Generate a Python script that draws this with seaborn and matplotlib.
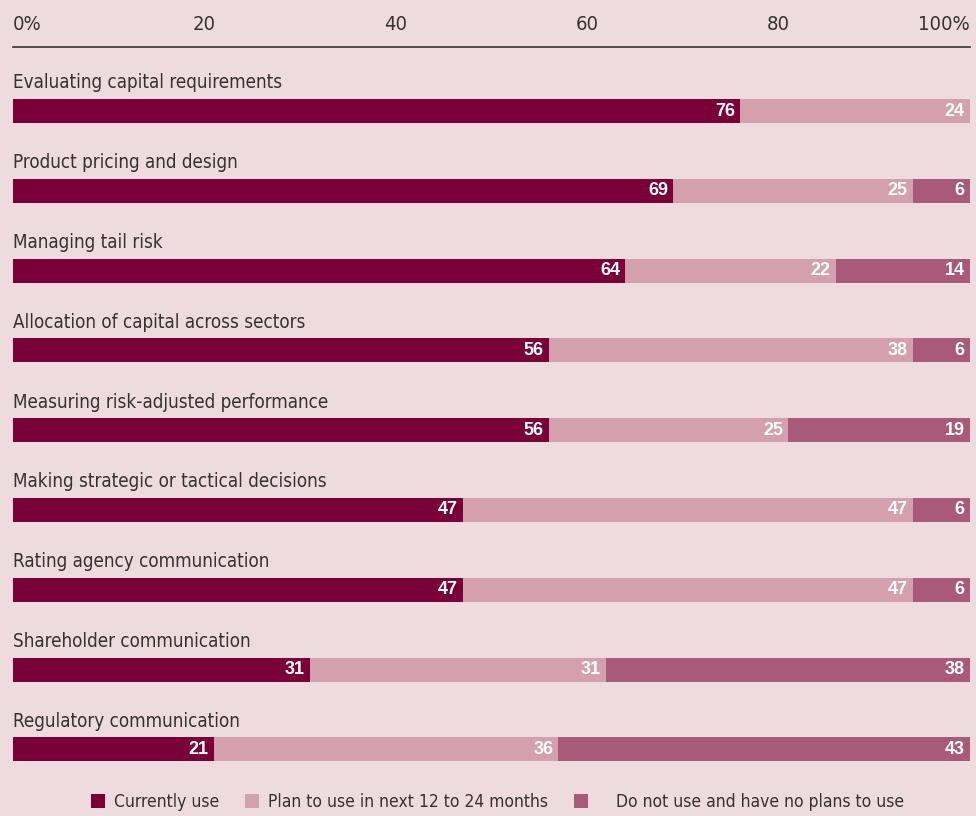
import matplotlib
matplotlib.use("Agg")
import matplotlib.pyplot as plt
from matplotlib.patches import Patch
from matplotlib import font_manager
from matplotlib.font_manager import FontProperties
import seaborn as sns
import numpy as np
import pandas as pd

categories = [
    "Evaluating capital requirements",
    "Product pricing and design",
    "Managing tail risk",
    "Allocation of capital across sectors",
    "Measuring risk-adjusted performance",
    "Making strategic or tactical decisions",
    "Rating agency communication",
    "Shareholder communication",
    "Regulatory communication",
]
currently_use = [76, 69, 64, 56, 56, 47, 47, 31, 21]
plan_to_use = [24, 25, 22, 38, 25, 47, 47, 31, 36]
no_plans = [0, 6, 14, 6, 19, 6, 6, 38, 43]
series_names = ["Currently use", "Plan to use in next 12 to 24 months",
                "Do not use and have no plans to use"]
tick_values = [0, 20, 40, 60, 80, 100]
tick_labels = ["0%", "20", "40", "60", "80", "100%"]

BG = "#EEDBDF"
C_DARK = "#7A0038"
C_LIGHT = "#D4A0AD"
C_MED = "#A85A78"
TXT = "#333333"

sns.set_theme(style="white")
names = {f.name for f in font_manager.fontManager.ttflist}
if "Liberation Sans Narrow" in names:
    FONT = ["Liberation Sans Narrow", "DejaVu Sans"]
elif "DejaVu Sans Condensed" in names:
    FONT = ["DejaVu Sans Condensed", "DejaVu Sans"]
else:
    FONT = ["DejaVu Sans"]
plt.rcParams["font.family"] = FONT
plt.rcParams["font.stretch"] = "condensed"

df = pd.DataFrame({
    "category": categories,
    "c1": currently_use,
    "c2": plan_to_use,
    "c3": no_plans,
})
df["cum1"] = df["c1"]
df["cum2"] = df["c1"] + df["c2"]
df["cum3"] = df["c1"] + df["c2"] + df["c3"]

fig = plt.figure(figsize=(9.76, 8.16), dpi=100, facecolor=BG)
W, H = 976, 816
top_px, bot_px = 47, 790
ax = fig.add_axes([13 / W, 1 - bot_px / H, (970 - 13) / W, (bot_px - top_px) / H])
ax.set_facecolor(BG)

bar_w = 0.30
sns.barplot(data=df, x="cum3", y="category", orient="h", color=C_MED,
            width=bar_w, saturation=1, ax=ax, edgecolor="none")
sns.barplot(data=df, x="cum2", y="category", orient="h", color=C_LIGHT,
            width=bar_w, saturation=1, ax=ax, edgecolor="none")
sns.barplot(data=df, x="cum1", y="category", orient="h", color=C_DARK,
            width=bar_w, saturation=1, ax=ax, edgecolor="none")

spacing = 79.8
ymin = (top_px - 111) / spacing
ymax = (bot_px - 111) / spacing
ax.set_ylim(ymax, ymin)
ax.set_xlim(0, 100)

ax.xaxis.tick_top()
ax.set_xticks(tick_values)
ax.set_xticklabels(tick_labels, fontsize=14.5, color=TXT)
ax.tick_params(axis="x", length=0, pad=9)
for lab, v in zip(ax.get_xticklabels(), tick_values):
    if v == 0:
        lab.set_horizontalalignment("left")
    elif v == 100:
        lab.set_horizontalalignment("right")
ax.set_yticks([])
ax.set_xlabel("")
ax.set_ylabel("")
for s in ["right", "bottom", "left"]:
    ax.spines[s].set_visible(False)
ax.spines["top"].set_color(TXT)
ax.spines["top"].set_linewidth(1.2)

for i, cat in enumerate(categories):
    ax.text(0, i - 28 / spacing, cat, ha="left", va="center", fontsize=13.5, color=TXT)

val_font = FontProperties(family=["Liberation Sans", "DejaVu Sans"], weight="bold",
                          stretch="normal", size=13)
for i in range(len(categories)):
    for val, end in [(df.c1[i], df.cum1[i]), (df.c2[i], df.cum2[i]), (df.c3[i], df.cum3[i])]:
        if val > 0:
            ax.text(end - 0.55, i, str(val), ha="right", va="center",
                    fontproperties=val_font, color="white")

legend_labels = [series_names[0], series_names[1], "    " + series_names[2]]
handles = [Patch(facecolor=c, edgecolor="none") for c in (C_DARK, C_LIGHT, C_MED)]
fig.legend(handles, legend_labels, loc="center", bbox_to_anchor=(0.51, 1 - 802 / H),
           ncol=3, frameon=False, fontsize=12.5, handlelength=0.8, handleheight=0.8,
           handletextpad=0.5, columnspacing=1.5, labelcolor=TXT)

fig.savefig("out.png", dpi=100, facecolor=BG)
